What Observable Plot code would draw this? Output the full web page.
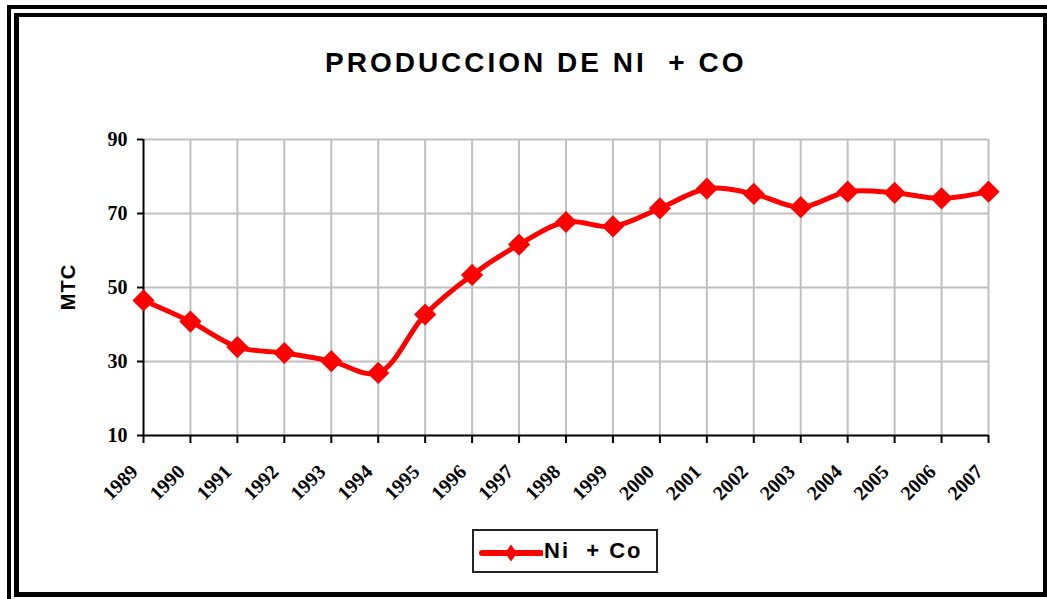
<!DOCTYPE html>
<html>
<head>
<meta charset="utf-8">
<script src="https://cdn.jsdelivr.net/npm/d3@7"></script>
<script src="https://cdn.jsdelivr.net/npm/@observablehq/plot@0.6"></script>
<style>
  html, body { margin: 0; padding: 0; background: #fff; overflow: hidden; }
  #page { position: relative; width: 1047px; height: 599px; overflow: hidden; background: #fff; }
  #chart { position: absolute; left: 0; top: 0; }
  .frame { position: absolute; box-sizing: border-box; border-style: solid; border-color: #000; }
  #title { position: absolute; left: 325px; top: 49px; font-family: "Liberation Sans", Arial, sans-serif; font-weight: bold; font-size: 28px; line-height: 28px; letter-spacing: 3px; white-space: pre; color: #000; }
  #ylabel { position: absolute; left: 68px; top: 287px; transform: translate(-50%, -50%) rotate(-90deg); font-family: "Liberation Sans", Arial, sans-serif; font-weight: bold; font-size: 20px; line-height: 20px; letter-spacing: 1px; white-space: pre; color: #000; }
  #legend { position: absolute; left: 472px; top: 529px; width: 186px; height: 44px; box-sizing: border-box; border: 2px solid #222; background: #fff; }
  #legend svg { position: absolute; left: 5px; top: 7px; }
  #legend .lab { position: absolute; left: 70px; top: 8.5px; font-family: "Liberation Sans", Arial, sans-serif; font-weight: bold; font-size: 22px; line-height: 22px; letter-spacing: 2px; white-space: pre; color: #000; }
</style>
</head>
<body>
<div id="page">
  <div id="chart"></div>
  <div id="title">PRODUCCION DE NI  + CO</div>
  <div id="ylabel">MTC</div>
  <div id="legend">
    <svg width="64" height="30" viewBox="0 0 64 30">
      <line x1="3" y1="15" x2="62" y2="15" stroke="#ff0000" stroke-width="6" stroke-linecap="round"></line>
      <path d="M32,6.5 L38,15 L32,23.5 L26,15 Z" fill="#ff0000"></path>
    </svg>
    <div class="lab">Ni  + Co</div>
  </div>
  <div class="frame" style="left:7px; top:5px; width:1200px; height:800px; border-width:4px;"></div>
  <div class="frame" style="left:14px; top:13px; width:1033px; height:584px; border-width:4px 4px 5px 5px;"></div>
</div>
<script>
const years = [1989, 1990, 1991, 1992, 1993, 1994, 1995, 1996, 1997, 1998, 1999, 2000, 2001, 2002, 2003, 2004, 2005, 2006, 2007];
const niCo = [46.5, 40.8, 33.9, 32.3, 30.1, 26.9, 42.7, 53.4, 61.6, 67.7, 66.5, 71.4, 76.7, 75.3, 71.7, 75.9, 75.6, 74.1, 75.9];
const yTicks = [10, 30, 50, 70, 90];

const data = years.map((year, i) => ({year, value: niCo[i]}));

const serif = '"Liberation Serif", "Times New Roman", serif';

const chart = Plot.plot({
  width: 1047,
  height: 599,
  marginLeft: 143,
  marginRight: 59,
  marginTop: 139,
  marginBottom: 164,
  style: {background: "transparent", overflow: "visible", color: "#000"},
  x: {type: "linear", domain: [1989, 2007]},
  y: {type: "linear", domain: [10, 90]},
  marks: [
    Plot.ruleX(years.slice(1), {stroke: "#c0c0c0", strokeWidth: 2}),
    Plot.ruleY(yTicks.slice(1), {stroke: "#c0c0c0", strokeWidth: 2}),
    Plot.ruleX([1989], {stroke: "#000", strokeWidth: 2}),
    Plot.ruleY([10], {stroke: "#000", strokeWidth: 2}),
    Plot.axisY({ticks: yTicks, tickSize: 6, tickPadding: 10, label: null, tickFormat: d => String(d),
      fontSize: 20, fontWeight: "bold", fontFamily: serif, stroke: "#000", strokeWidth: 2, fill: "#000"}),
    Plot.axisX({ticks: years, tickSize: 8, label: null, tickFormat: () => "",
      stroke: "#000", strokeWidth: 2}),
    Plot.axisX({ticks: years, tickSize: 0, tickPadding: 33, tickRotate: -45, label: null, tickFormat: d => String(d),
      fontSize: 20, fontWeight: "bold", fontFamily: serif, fill: "#000", dx: -9}),
    Plot.line(data, {x: "year", y: "value", stroke: "#ff0000", strokeWidth: 5, curve: "catmull-rom"}),
    Plot.dot(data, {x: "year", y: "value", symbol: "diamond2", r: 10, fill: "#ff0000", stroke: "none"})
  ]
});
document.getElementById("chart").appendChild(chart);
</script>
</body>
</html>
